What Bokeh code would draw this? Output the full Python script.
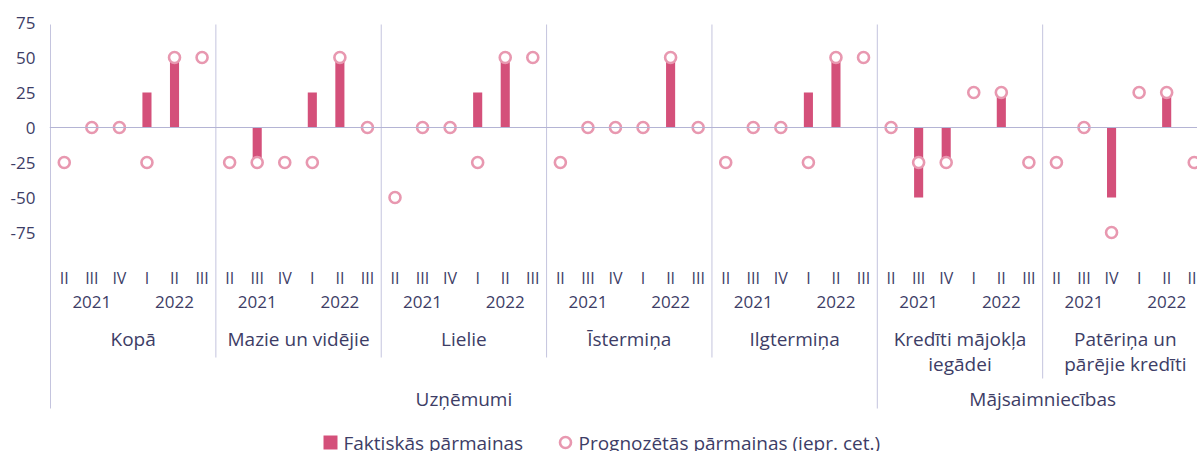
from bokeh.plotting import figure
from bokeh.models import Range1d, FixedTicker, Span
from bokeh.core.properties import value
from bokeh.embed import file_html
from bokeh.resources import INLINE

# ---------------- data ----------------
quarters = ["II", "III", "IV", "I", "II", "III"]
years = ["2021", "2022"]
groups = ["Kopā", "Mazie un vidējie", "Lielie", "Īstermiņa", "Ilgtermiņa",
          "Kredīti mājokļa\niegādei", "Patēriņa un\npārējie kredīti"]
supergroups = ["Uzņēmumi", "Mājsaimniecības"]
supergroup_sizes = [5, 2]

fakt_kopa = [0, 0, 0, 25, 50, None]
fakt_mazie = [0, -25, 0, 25, 50, None]
fakt_lielie = [0, 0, 0, 25, 50, None]
fakt_isterm = [0, 0, 0, 0, 50, None]
fakt_ilgterm = [0, 0, 0, 25, 50, None]
fakt_majoklis = [0, -50, -25, 0, 25, None]
fakt_paterins = [0, 0, -50, 0, 25, None]

progn_kopa = [-25, 0, 0, -25, 50, 50]
progn_mazie = [-25, -25, -25, -25, 50, 0]
progn_lielie = [-50, 0, 0, -25, 50, 50]
progn_isterm = [-25, 0, 0, 0, 50, 0]
progn_ilgterm = [-25, 0, 0, -25, 50, 50]
progn_majoklis = [0, -25, -25, 25, 25, -25]
progn_paterins = [-25, 0, -75, 25, 25, -25]

fakt_series = [fakt_kopa, fakt_mazie, fakt_lielie, fakt_isterm, fakt_ilgterm,
               fakt_majoklis, fakt_paterins]
progn_series = [progn_kopa, progn_mazie, progn_lielie, progn_isterm, progn_ilgterm,
                progn_majoklis, progn_paterins]

y_ticks = [75, 50, 25, 0, -25, -50, -75]

legend_labels = ["Faktiskās pārmaiņas", "Prognozētās pārmaiņas (iepr. cet.)"]

# ---------------- styles ----------------
BAR_COLOR = "#d4507a"
CIRCLE_COLOR = "#e898b0"
TEXT_COLOR = "#3d3d66"
SEP_COLOR = "#c4c4de"
ZERO_COLOR = "#b4b4d4"
FONT = value("Open Sans")

W, H = 1197, 451
BORDER_L, BORDER_T = 49, 22
PX_PER_CAT = 27.56
PX_PER_UNIT = 1.4
frame_w = W - BORDER_L
frame_h = H - BORDER_T
x_start = -1.0 / PX_PER_CAT
x_end = x_start + frame_w / PX_PER_CAT
y_top = 75
y_bot = y_top - frame_h / PX_PER_UNIT


def ref_y(py):
    # vertical pixel position -> data units
    return (127 - py) / PX_PER_UNIT


def ref_x(px):
    return (px - 50) / PX_PER_CAT


n_q = len(quarters)

p = figure(width=W, height=H, output_backend="svg", toolbar_location=None,
           x_range=Range1d(x_start, x_end), y_range=Range1d(y_bot, y_top),
           x_axis_location=None, y_axis_location="left")
p.min_border_left = BORDER_L
p.min_border_right = 0
p.min_border_top = BORDER_T
p.min_border_bottom = 0
p.outline_line_color = None
p.xgrid.visible = False
p.ygrid.visible = False
p.background_fill_color = "white"
p.border_fill_color = "white"

ax = p.yaxis[0]
ax.ticker = FixedTicker(ticks=y_ticks)
ax.major_label_overrides = {t: str(t) for t in y_ticks}
ax.axis_line_color = None
ax.major_tick_line_color = None
ax.minor_tick_line_color = None
ax.major_tick_in = 0
ax.major_tick_out = 0
ax.major_label_standoff = 14
ax.major_label_text_font = "Open Sans"
ax.major_label_text_font_size = "17px"
ax.major_label_text_color = TEXT_COLOR

# ---- separators ----
sep_x, sep_y0, sep_y1 = [], [], []
top_sep = ref_y(24)
starts = [0]
for s in supergroup_sizes:
    starts.append(starts[-1] + s)
for g in range(len(groups) + 1):
    xg = g * n_q
    if g in starts:
        bottom = ref_y(408)
    else:
        multi = any("\n" in groups[k] for k in (g - 1, g) if 0 <= k < len(groups))
        bottom = ref_y(378) if multi else ref_y(357)
    sep_x.append(xg)
    sep_y0.append(top_sep)
    sep_y1.append(bottom)
p.segment(x0=sep_x, y0=sep_y0, x1=sep_x, y1=sep_y1, line_color=SEP_COLOR, line_width=1)

p.add_layout(Span(location=0, dimension="width", line_color=ZERO_COLOR, line_width=1))

# ---- bars & circles ----
bx, btop, cx, cy = [], [], [], []
for g in range(len(groups)):
    for i in range(n_q):
        x = g * n_q + i + 0.5
        v = fakt_series[g][i]
        if v is not None and v != 0:
            bx.append(x)
            btop.append(v)
        c = progn_series[g][i]
        if c is not None:
            cx.append(x)
            cy.append(c)

p.vbar(x=bx, top=btop, bottom=0, width=0.33, fill_color=BAR_COLOR, line_color=None)
p.scatter(x=cx, y=cy, marker="circle", size=11, line_width=2.6,
          line_color=CIRCLE_COLOR, fill_color="white")

# ---- category labels ----
qx, qy, qt = [], [], []
yx, yy, yt = [], [], []
gx, gy, gt = [], [], []
for g in range(len(groups)):
    for i, q in enumerate(quarters):
        qx.append(g * n_q + i + 0.5)
        qy.append(ref_y(277))
        qt.append(q)
    for k, yr in enumerate(years):
        yx.append(g * n_q + 3 * k + 1.5)
        yy.append(ref_y(301))
        yt.append(yr)
    for li, line in enumerate(groups[g].split("\n")):
        gx.append(g * n_q + n_q / 2)
        gy.append(ref_y(338 + 25 * li))
        gt.append(line)
for s, name in enumerate(supergroups):
    gx.append((starts[s] + starts[s + 1]) * n_q / 2)
    gy.append(ref_y(398))
    gt.append(name)

p.text(x=qx, y=qy, text=qt, text_font=FONT, text_font_size=value("16px"),
       text_color=TEXT_COLOR, text_align="center", text_baseline="middle")
p.text(x=yx, y=yy, text=yt, text_font=FONT, text_font_size=value("17px"),
       text_color=TEXT_COLOR, text_align="center", text_baseline="middle")
p.text(x=gx, y=gy, text=gt, text_font=FONT, text_font_size=value("19px"),
       text_color=TEXT_COLOR, text_align="center", text_baseline="middle")

# ---- legend (manual) ----
leg_y = ref_y(442)
p.scatter(x=[ref_x(330)], y=[leg_y], marker="square", size=14,
          fill_color=BAR_COLOR, line_color=None)
p.scatter(x=[ref_x(565)], y=[leg_y], marker="circle", size=11, line_width=2.6,
          line_color=CIRCLE_COLOR, fill_color="white")
p.text(x=[ref_x(343), ref_x(578)], y=[leg_y, leg_y], text=legend_labels,
       text_font=FONT, text_font_size=value("19px"), text_color=TEXT_COLOR,
       text_align="left", text_baseline="middle")

open("out.html", "w").write(file_html(p, INLINE))
